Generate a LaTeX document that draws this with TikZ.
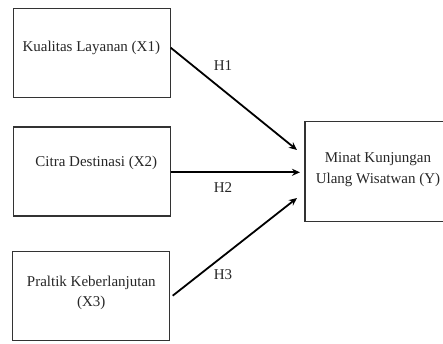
\documentclass[tikz,border=0pt]{standalone}
\usepackage{fontspec}
\setmainfont{Liberation Serif}
\usetikzlibrary{arrows.meta}
\begin{document}
\begin{tikzpicture}[x=1pt,y=1pt,
  box/.style={draw=black!80, line width=1.2pt, inner sep=0pt},
  lbl/.style={font=\fontsize{15}{20.5}\selectfont, text=black!85, align=center},
  arr/.style={line width=1.8pt, -{Stealth[length=8pt,width=7pt]}}]
\clip (0,0) rectangle (443,343);
% boxes
\node[box, minimum width=157.4pt, minimum height=89pt] (x1) at (92,290.2) {};
\node[box, minimum width=157.4pt, minimum height=89pt] (x2) at (92,171.5) {};
\node[box, minimum width=156.6pt, minimum height=89pt] (x3) at (91,46.8) {};
\node[box, minimum width=146pt, minimum height=100pt, anchor=west] (y) at (304.3,171.3) {};
% texts
\node[lbl] (t1) at (91.3,295.3) {Kualitas Layanan (X1)};
\node[lbl] (t2) at (96.3,179.7) {Citra Destinasi (X2)};
\node[lbl] (t3) at (91.3,50) {Praltik Keberlanjutan\\(X3)};
\node[lbl] (ty) at (378,173.3) {Minat Kunjungan\\Ulang Wisatwan (Y)};
% arrow anchors
\coordinate (s1) at (170.7,295.3);
\coordinate (e1) at (297,193);
\coordinate (s2) at (170.7,170.7);
\coordinate (e2) at (300,170.7);
\coordinate (s3) at (172.7,47.3);
\coordinate (e3) at (297,145);
\draw[arr] (s1) -- (e1);
\draw[arr] (s2) -- (e2);
\draw[arr] (s3) -- (e3);
% hypothesis labels
\node[lbl] (h1) at (223,277) {H1};
\node[lbl] (h2) at (223,155) {H2};
\node[lbl] (h3) at (223,68) {H3};
\end{tikzpicture}
\end{document}
